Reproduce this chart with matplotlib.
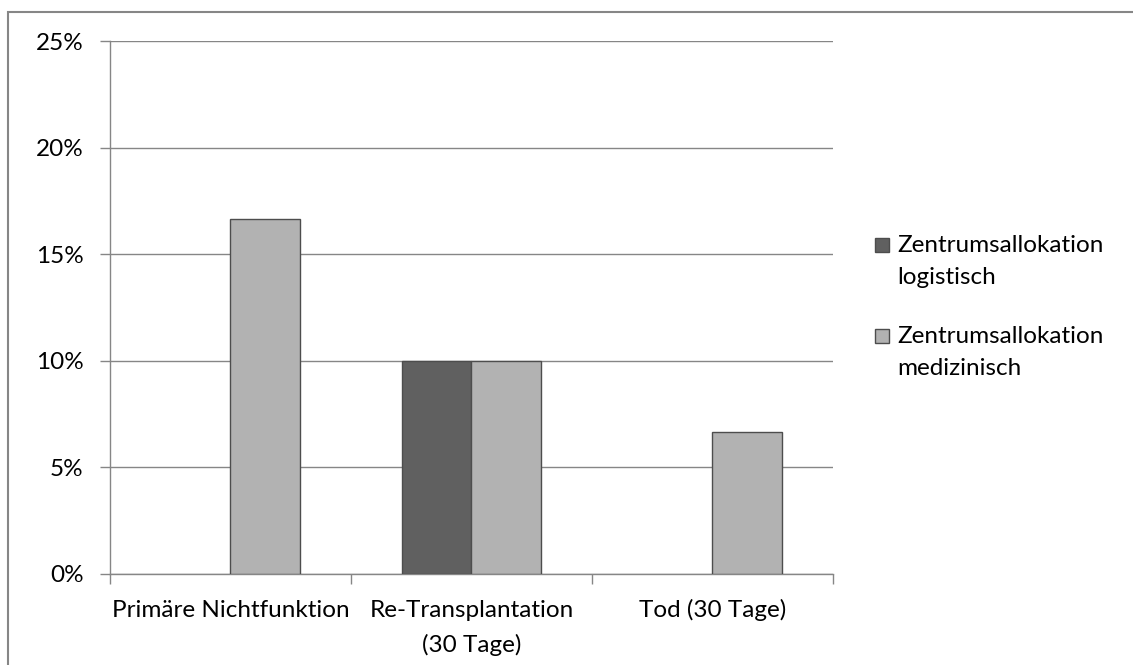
import matplotlib
matplotlib.use("Agg")
import matplotlib.pyplot as plt
from matplotlib.patches import Rectangle
from matplotlib.transforms import offset_copy
import numpy as np

plt.rcParams['font.family'] = ['Lato', 'DejaVu Sans']

categories = ["Primäre Nichtfunktion", "Re-Transplantation\n(30 Tage)", "Tod (30 Tage)"]
series_names = ["Zentrumsallokation\nlogistisch", "Zentrumsallokation\nmedizinisch"]
logistisch = [0.0, 10.0, 0.0]
medizinisch = [16.67, 10.0, 6.67]
yticks = [0, 5, 10, 15, 20, 25]
ytick_labels = ["0%", "5%", "10%", "15%", "20%", "25%"]

colors = ["#606060", "#b2b2b2"]
edge = "#4d4d4d"
grid_c = "#868686"
FS = 17.5
PX = 72 / 100  # points per pixel at dpi 100

W, H = 1133, 665
fig = plt.figure(figsize=(W / 100, H / 100), dpi=100)
ax = fig.add_axes([110 / W, 1 - 574 / H, (833 - 110) / W, (574 - 41) / H])

x = np.arange(len(categories))
bw = 0.29
for offset, vals, c in [(-bw / 2, logistisch, colors[0]), (bw / 2, medizinisch, colors[1])]:
    ecs = [edge if v > 0 else "none" for v in vals]
    ax.bar(x + offset, vals, bw, color=c, edgecolor=ecs, linewidth=1.0, zorder=3)

ax.set_xlim(-0.5, len(categories) - 0.5)
ax.set_ylim(0, 25)
ax.set_yticks(yticks)
ax.set_yticklabels(ytick_labels, fontsize=FS)
ax.yaxis.grid(True, color=grid_c, linewidth=1.0, zorder=0)
ax.tick_params(axis='y', length=7, color=grid_c, width=1.0, pad=12)

# category boundaries carry the x tick marks
ax.set_xticks(np.arange(len(categories) + 1) - 0.5)
ax.set_xticklabels([])
ax.tick_params(axis='x', which='major', length=7, color=grid_c, width=1.0)

# category labels, one baseline per line below the axis
for xi, cat in zip(x, categories):
    for i, line in enumerate(cat.split("\n")):
        tr = offset_copy(ax.get_xaxis_transform(), fig=fig,
                         y=-(43 + 35 * i) * PX, units='points')
        ax.text(xi, 0, line, transform=tr, fontsize=FS, ha='center',
                va='baseline', clip_on=False)

for s in ["top", "right"]:
    ax.spines[s].set_visible(False)
for s in ["left", "bottom"]:
    ax.spines[s].set_color(grid_c)
    ax.spines[s].set_linewidth(1.0)

# legend drawn as boxes and text in figure pixels
leg_base = [252, 343]
for yb, c, name in zip(leg_base, colors, series_names):
    fig.patches.append(Rectangle((875 / W, 1 - yb / H), 14 / W, 14 / H,
                                 transform=fig.transFigure, facecolor=c,
                                 edgecolor=edge, linewidth=1.0))
    for i, line in enumerate(name.split("\n")):
        fig.text(897 / W, 1 - (yb + 32 * i) / H, line, fontsize=FS,
                 va='baseline', ha='left')

# outer chart frame
fig.patches.append(Rectangle((8 / W, -0.1), 1.2, 1 - 12 / H + 0.1,
                             transform=fig.transFigure, fill=False,
                             edgecolor=grid_c, linewidth=1.5))

fig.savefig("out.png", dpi=100)
